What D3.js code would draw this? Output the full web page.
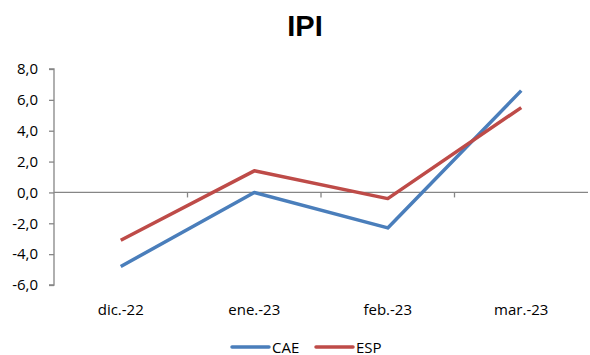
<!DOCTYPE html>
<html><head><meta charset="utf-8">
<script src="https://cdn.jsdelivr.net/npm/d3@7/dist/d3.min.js"></script>
<style>body{margin:0;background:#fff}</style>
</head><body>
<script>
const categories = ["dic.-22", "ene.-23", "feb.-23", "mar.-23"];
const cae = [-4.8, 0.0, -2.3, 6.6];
const esp = [-3.1, 1.4, -0.4, 5.5];
const yTicks = [-6, -4, -2, 0, 2, 4, 6, 8];
const seriesNames = ["CAE", "ESP"];
const colors = ["#4a7ebb", "#be4b48"];

(function () {
const W = 590, H = 355;
const font = "'Open Sans', sans-serif";
const fs = 15;
const svg = d3.select("body").append("svg").attr("width", W).attr("height", H);

const pL = 54, pR = 588, pT = 69, pB = 285;
const x = d3.scaleBand().domain(categories).range([pL, pR]);
const y = d3.scaleLinear().domain([-6, 8]).range([pB, pT]);

// title
svg.append("text").attr("x", 305).attr("y", 36).attr("text-anchor", "middle")
  .attr("font-family", "'Liberation Sans', Arial, sans-serif").attr("font-weight", "bold")
  .attr("font-size", 29).attr("fill", "#000").text("IPI");

// y axis
const yAxis = svg.append("g").attr("transform", `translate(${pL},0)`)
  .call(d3.axisLeft(y).tickValues(yTicks).tickSize(5).tickPadding(11)
    .tickFormat(d => d3.format(".1f")(d).replace(".", ",").replace("−", "-")));
yAxis.selectAll("path").attr("stroke", "#868686").attr("stroke-width", 1.3).attr("d", `M-5,${y(8)}H0V${y(-6)}H-5`);
yAxis.selectAll("line").attr("stroke", "#868686").attr("stroke-width", 1.3);
yAxis.selectAll("text").attr("font-family", font).attr("font-size", fs).attr("fill", "#000");

// x axis at zero
const xAxis = svg.append("g").attr("transform", `translate(0,${y(0)})`)
  .call(d3.axisBottom(x).tickSize(0).tickFormat(""));
xAxis.selectAll("path").attr("stroke", "#868686").attr("stroke-width", 1.3).attr("d", `M${pL},0H${pR}`);
// category tick marks between categories
svg.append("g").selectAll("line").data(categories.slice(1)).join("line")
  .attr("x1", d => x(d)).attr("x2", d => x(d))
  .attr("y1", y(0)).attr("y2", y(0) + 5)
  .attr("stroke", "#868686").attr("stroke-width", 1.3);

// x labels at bottom
svg.append("g").selectAll("text").data(categories).join("text")
  .attr("x", d => x(d) + x.bandwidth() / 2).attr("y", 315)
  .attr("text-anchor", "middle").attr("font-family", font).attr("font-size", fs)
  .attr("fill", "#000").text(d => d);

// lines
const line = d3.line().x((d, i) => x(categories[i]) + x.bandwidth() / 2).y(d => y(d));
[cae, esp].forEach((s, i) => {
  svg.append("path").datum(s).attr("d", line).attr("fill", "none")
    .attr("stroke", colors[i]).attr("stroke-width", 3.5).attr("stroke-linejoin", "round");
});

// legend
const legX = [232, 316];
seriesNames.forEach((n, i) => {
  svg.append("line").attr("x1", legX[i]).attr("x2", legX[i] + 37).attr("y1", 347).attr("y2", 347)
    .attr("stroke", colors[i]).attr("stroke-width", 3.5).attr("stroke-linecap", "round");
  svg.append("text").attr("x", legX[i] + 40).attr("y", 352.5).attr("font-family", font)
    .attr("font-size", fs).attr("fill", "#000").text(n);
});
})();
</script>
</body></html>
